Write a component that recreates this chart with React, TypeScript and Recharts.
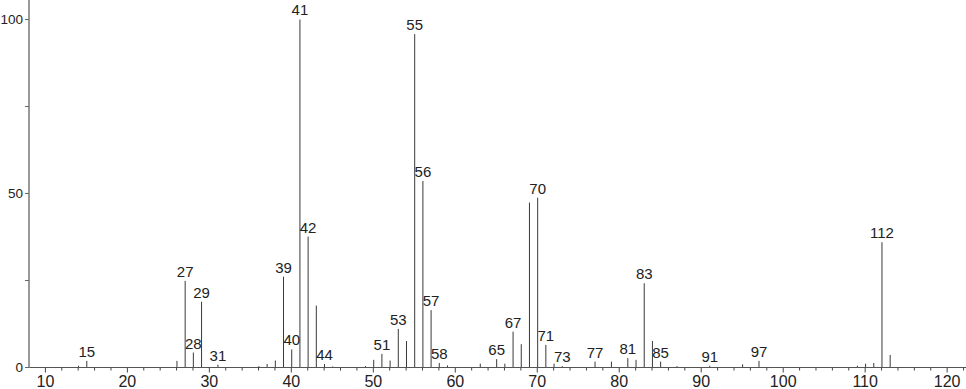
import React from 'react';
import { ComposedChart, Bar, XAxis, YAxis, LabelList } from 'recharts';

// m/z values and relative intensities (%)
const mzValues = [14, 15, 26, 27, 28, 29, 31, 36, 37, 38, 39, 40, 41, 42, 43, 44, 45, 49, 50, 51, 52, 53, 54, 55, 56, 57, 58, 59, 63, 65, 66, 67, 68, 69, 70, 71, 72, 73, 77, 79, 81, 82, 83, 84, 85, 87, 91, 95, 97, 109, 110, 111, 112, 113];
const intensities = [0.5, 1.9, 1.9, 24.9, 4.3, 18.9, 0.8, 0.4, 1.0, 2.0, 26.1, 5.2, 100, 37.6, 17.8, 1.0, 0.3, 0.4, 2.2, 3.9, 2.0, 11.1, 7.6, 95.8, 53.6, 16.5, 1.3, 0.6, 1.1, 2.4, 1.1, 10.3, 6.7, 47.4, 48.8, 6.5, 1.1, 0.4, 1.7, 1.7, 2.7, 2.2, 24.2, 7.6, 1.7, 0.4, 0.5, 0.9, 1.9, 0.5, 1.1, 1.3, 36.0, 3.6];
const labeledPeaks = [15, 27, 28, 29, 31, 39, 40, 41, 42, 44, 51, 53, 55, 56, 57, 58, 65, 67, 70, 71, 73, 77, 81, 83, 85, 91, 97, 112];

const xTicks = [10, 12, 14, 16, 18, 20, 22, 24, 26, 28, 30, 32, 34, 36, 38, 40, 42, 44, 46, 48, 50, 52, 54, 56, 58, 60, 62, 64, 66, 68, 70, 72, 74, 76, 78, 80, 82, 84, 86, 88, 90, 92, 94, 96, 98, 100, 102, 104, 106, 108, 110, 112, 114, 116, 118, 120, 122];
const yTicks = [0, 25, 50, 75, 100];

const data = mzValues.map((mz, i) => ({
  mz,
  intensity: intensities[i],
  label: labeledPeaks.includes(mz) ? String(mz) : '',
}));

const FONT = '"Liberation Sans", Arial, sans-serif';

const PeakShape = (props: any) => {
  const { x, y, width, height } = props;
  if (x == null || y == null) return null;
  const cx = x + width / 2;
  return <line x1={cx} x2={cx} y1={y} y2={y + height} stroke="#3a3a3a" strokeWidth={1} />;
};

const PeakLabel = (props: any) => {
  const { x, y, width, value } = props;
  if (!value) return null;
  return (
    <text x={x + width / 2} y={y - 4} textAnchor="middle" fontSize={15} fill="#222" fontFamily={FONT}>
      {value}
    </text>
  );
};

const XTick = (props: any) => {
  const { x, y, payload } = props;
  const v = payload.value;
  const major = v % 10 === 0;
  return (
    <g>
      <line x1={x} x2={x} y1={y} y2={y + (major ? 5 : 3)} stroke="#444" strokeWidth={1} />
      {major && (
        <text x={x} y={y + 19} textAnchor="middle" fontSize={16} fill="#222" fontFamily={FONT}>
          {v}
        </text>
      )}
    </g>
  );
};

export default function App() {
  return (
    <div style={{ position: 'absolute', left: 0, top: 0, background: '#fff' }}>
      <ComposedChart
        width={966}
        height={389}
        data={data}
        margin={{ top: 0, right: 0, bottom: 0, left: 0 }}
      >
        <XAxis
          dataKey="mz"
          type="number"
          domain={[8, 122.3]}
          allowDataOverflow
          ticks={xTicks}
          interval={0}
          height={21.5}
          tickSize={0}
          tickMargin={0}
          tickLine={false}
          axisLine={{ stroke: '#555', strokeWidth: 1 }}
          tick={<XTick />}
        />
        <YAxis
          type="number"
          domain={[0, 105.6]}
          allowDataOverflow
          ticks={yTicks}
          interval={0}
          width={29}
          tickSize={4}
          tickMargin={2}
          axisLine={{ stroke: '#9a9a9a', strokeWidth: 2 }}
          tickLine={{ stroke: '#666' }}
          tickFormatter={(v: number) => (v % 50 === 0 ? String(v) : '')}
          tick={{ fontSize: 13.5, fill: '#222', fontFamily: FONT }}
        />
        <Bar dataKey="intensity" barSize={1} isAnimationActive={false} shape={<PeakShape />}>
          <LabelList dataKey="label" content={<PeakLabel />} />
        </Bar>
      </ComposedChart>
    </div>
  );
}
